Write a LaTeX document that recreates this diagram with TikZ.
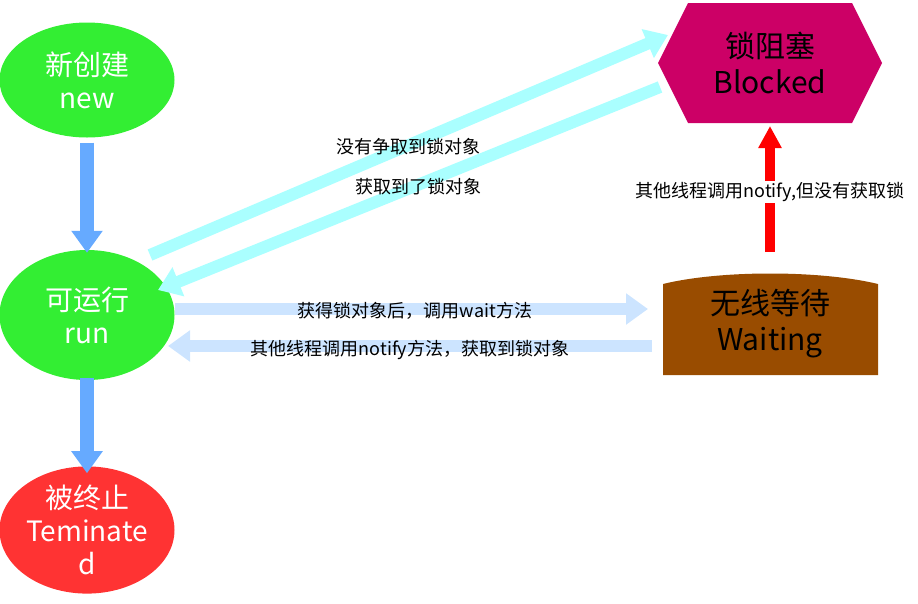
\documentclass[tikz,border=0pt]{standalone}
\usepackage{fontspec}
\setmainfont{Noto Sans CJK SC}
\usetikzlibrary{arrows.meta,shapes.geometric}
\definecolor{stgreen}{HTML}{33EE33}
\definecolor{stred}{HTML}{FF3333}
\definecolor{stblock}{HTML}{CC0066}
\definecolor{stwait}{HTML}{994C00}
\definecolor{arblue}{HTML}{66AAFF}
\definecolor{arcyan}{HTML}{AAFFFF}
\definecolor{arpale}{HTML}{CCE4FF}
\tikzset{
  state/.style={ellipse,minimum width=175pt,minimum height=115pt,align=center,
    font=\fontsize{28}{33}\selectfont,text=white,inner sep=0pt},
  bigarrow/.style={line width=14pt,-{Triangle[width=30pt,length=22pt]}},
  lbl/.style={font=\fontsize{18}{20}\selectfont,inner sep=1pt}
}
\begin{document}
\begin{tikzpicture}[x=1pt,y=-1pt]
  \useasboundingbox (0,0) rectangle (918,603);
  % states
  \node[state,fill=stgreen] (new) at (87,80) {新创建\\new};
  \node[state,fill=stgreen,minimum height=130pt] (run) at (87,315) {可运行\\run};
  \node[state,fill=stred,minimum height=120pt] (term) at (87,530) {被终止\\Teminate\\d};
  \fill[stblock] (658,63) -- (688,3) -- (852,3) -- (882,63) -- (852,123) -- (688,123) -- cycle;
  \node[align=center,text=black,font=\fontsize{30}{36}\selectfont] (blk) at (770,63) {锁阻塞\\Blocked};
  \fill[stwait] (663,375) -- (663,284) .. controls (720,270) and (820,270) .. (878,284) -- (878,375) -- cycle;
  \node[align=center,text=black,font=\fontsize{30}{36}\selectfont] (wait) at (770,324) {无线等待\\Waiting};
  % connector ends
  \coordinate (r1) at (150,255);
  \coordinate (b1) at (668,35);
  \coordinate (b2) at (660,87);
  \coordinate (r2) at (158,290);
  \coordinate (r3) at (175,309);
  \coordinate (w1) at (648,309);
  \coordinate (w2) at (652,346);
  \coordinate (r4) at (168,346);
  \coordinate (w3) at (770,252);
  \coordinate (b3) at (770,126);
  % arrows
  \draw[bigarrow,arblue] (new.south) ++(0,5) -- ([yshift=-3pt]run.north);
  \draw[bigarrow,arblue] (run.south) ++(0,-2) -- ([yshift=-7pt]term.north);
  \draw[bigarrow,arcyan,line width=12pt] (r1) -- (b1);
  \draw[bigarrow,arcyan,line width=12pt] (b2) -- (r2);
  \draw[bigarrow,arpale,line width=12pt] (r3) -- (w1);
  \draw[bigarrow,arpale,line width=12pt] (w2) -- (r4);
  \draw[red,line width=10pt,-{Triangle[width=22pt,length=22pt]}] (w3) -- (b3);
  % labels
  \node[lbl] (l1) at (408,147) {没有争取到锁对象};
  \node[lbl] (l2) at (418,187) {获取到了锁对象};
  \node[lbl] (l3) at (415,311) {获得锁对象后，调用wait方法};
  \node[lbl] (l4) at (410,350) {其他线程调用notify方法，获取到锁对象};
  \node[lbl,fill=white] (l5) at (770,192) {其他线程调用notify,但没有获取锁};
\end{tikzpicture}
\end{document}
